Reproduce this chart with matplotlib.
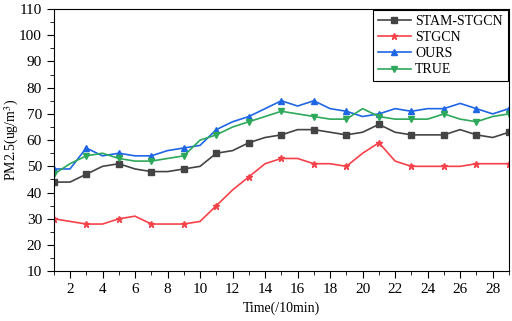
import matplotlib
matplotlib.use('Agg')
import matplotlib.pyplot as plt
from matplotlib.ticker import MultipleLocator

plt.rcParams['font.family'] = ['Liberation Serif', 'DejaVu Serif']
plt.rcParams['mathtext.fontset'] = 'stix'

# time steps (/10min)
t = list(range(1, 30))

stam_stgcn = [44, 44, 47, 50, 51, 49, 48, 48, 49, 50, 55, 56, 59, 61, 62,
              64, 64, 63, 62, 63, 66, 63, 62, 62, 62, 64, 62, 61, 63]
stgcn = [30, 29, 28, 28, 30, 31, 28, 28, 28, 29, 35, 41, 46, 51, 53,
         53, 51, 51, 50, 55, 59, 52, 50, 50, 50, 50, 51, 51, 51]
ours = [49, 49, 57, 54, 55, 54, 54, 56, 57, 58, 64, 67, 69, 72, 75,
        73, 75, 72, 71, 69, 70, 72, 71, 72, 72, 74, 72, 70, 72]
true = [47, 51, 54, 55, 53, 52, 52, 53, 54, 60, 62, 65, 67, 69, 71,
        70, 69, 68, 68, 72, 69, 68, 68, 68, 70, 68, 67, 69, 70]

fig = plt.figure(figsize=(5.12, 3.21), dpi=100)
ax = fig.add_axes([0.105, 0.155, 0.889, 0.817])

kw = dict(lw=1.2, markersize=4.5, markevery=2)
ax.plot(t, stam_stgcn, color='#444444', marker='s', markersize=4, lw=1.2, markevery=2, label='STAM-STGCN')
ax.plot(t, stgcn, color='#f5424a', marker='*', label='STGCN', **kw)
ax.plot(t, ours, color='#1f66e5', marker='^', label='OURS', **kw)
ax.plot(t, true, color='#2ea85a', marker='v', label='TRUE', **kw)

ax.set_xlim(1, 29)
ax.set_ylim(10, 110)
ax.xaxis.set_major_locator(MultipleLocator(2))
ax.xaxis.set_minor_locator(MultipleLocator(1))
ax.yaxis.set_major_locator(MultipleLocator(10))
ax.yaxis.set_minor_locator(MultipleLocator(5))
ax.tick_params(which='both', direction='out', top=False, right=False, labelsize=11)
ax.tick_params(which='major', length=5)
ax.tick_params(which='minor', length=3)
ax.set_xlabel('Time(/10min)', fontsize=10)
ax.set_ylabel(r'PM2.5(ug/m$^3$)', fontsize=10)
ax.yaxis.set_label_coords(-0.072, 0.5)

leg = ax.legend(loc='upper right', fontsize=10, handlelength=2.4, borderaxespad=0.1,
                fancybox=False, framealpha=1, edgecolor='black', labelspacing=0.22,
                borderpad=0.35, handletextpad=0.3)
leg.get_frame().set_linewidth(0.8)

fig.savefig('out.png', dpi=100)
